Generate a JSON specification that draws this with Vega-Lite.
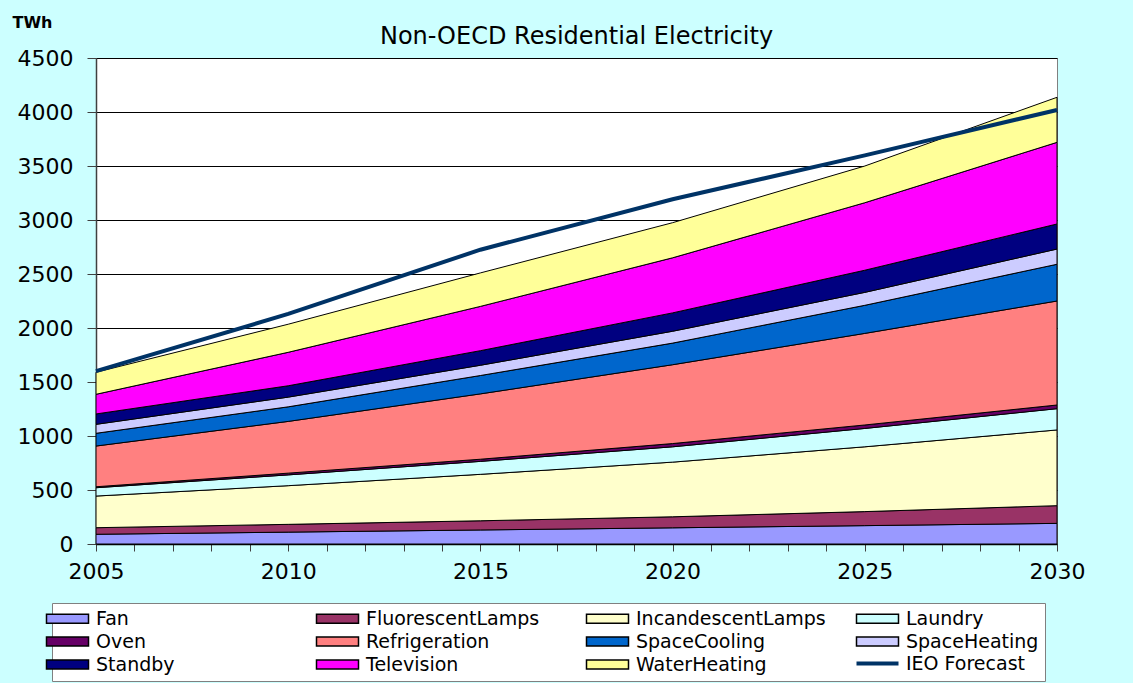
{
  "$schema": "https://vega.github.io/schema/vega-lite/v6.json",
  "width": 961,
  "height": 486,
  "autosize": {"type": "none"},
  "padding": {"left": 96, "top": 58, "right": 76, "bottom": 139},
  "background": "#CCFFFF",
  "title": {"text": "Non-OECD Residential Electricity", "font": "DejaVu Sans", "fontSize": 24, "fontWeight": "normal", "color": "black", "anchor": "middle", "frame": "group", "offset": -35},
  "config": {"view": {"fill": "white", "stroke": "#808080", "strokeWidth": 1}, "font": "DejaVu Sans", "axis": {"labelOverlap": false}},
  "datasets": {
    "areas": [
      {"year": 2005, "cat": "Fan", "k": 1, "value": 90},
      {"year": 2010, "cat": "Fan", "k": 1, "value": 110},
      {"year": 2015, "cat": "Fan", "k": 1, "value": 130},
      {"year": 2020, "cat": "Fan", "k": 1, "value": 150},
      {"year": 2025, "cat": "Fan", "k": 1, "value": 170},
      {"year": 2030, "cat": "Fan", "k": 1, "value": 191},
      {"year": 2005, "cat": "FluorescentLamps", "k": 2, "value": 61},
      {"year": 2010, "cat": "FluorescentLamps", "k": 2, "value": 72},
      {"year": 2015, "cat": "FluorescentLamps", "k": 2, "value": 85},
      {"year": 2020, "cat": "FluorescentLamps", "k": 2, "value": 102},
      {"year": 2025, "cat": "FluorescentLamps", "k": 2, "value": 130},
      {"year": 2030, "cat": "FluorescentLamps", "k": 2, "value": 164},
      {"year": 2005, "cat": "IncandescentLamps", "k": 3, "value": 293},
      {"year": 2010, "cat": "IncandescentLamps", "k": 3, "value": 358},
      {"year": 2015, "cat": "IncandescentLamps", "k": 3, "value": 430},
      {"year": 2020, "cat": "IncandescentLamps", "k": 3, "value": 506},
      {"year": 2025, "cat": "IncandescentLamps", "k": 3, "value": 600},
      {"year": 2030, "cat": "IncandescentLamps", "k": 3, "value": 701},
      {"year": 2005, "cat": "Laundry", "k": 4, "value": 77},
      {"year": 2010, "cat": "Laundry", "k": 4, "value": 100},
      {"year": 2015, "cat": "Laundry", "k": 4, "value": 120},
      {"year": 2020, "cat": "Laundry", "k": 4, "value": 142},
      {"year": 2025, "cat": "Laundry", "k": 4, "value": 170},
      {"year": 2030, "cat": "Laundry", "k": 4, "value": 197},
      {"year": 2005, "cat": "Oven", "k": 5, "value": 9},
      {"year": 2010, "cat": "Oven", "k": 5, "value": 16},
      {"year": 2015, "cat": "Oven", "k": 5, "value": 20},
      {"year": 2020, "cat": "Oven", "k": 5, "value": 30},
      {"year": 2025, "cat": "Oven", "k": 5, "value": 32},
      {"year": 2030, "cat": "Oven", "k": 5, "value": 34},
      {"year": 2005, "cat": "Refrigeration", "k": 6, "value": 377},
      {"year": 2010, "cat": "Refrigeration", "k": 6, "value": 479},
      {"year": 2015, "cat": "Refrigeration", "k": 6, "value": 605},
      {"year": 2020, "cat": "Refrigeration", "k": 6, "value": 730},
      {"year": 2025, "cat": "Refrigeration", "k": 6, "value": 848},
      {"year": 2030, "cat": "Refrigeration", "k": 6, "value": 963},
      {"year": 2005, "cat": "SpaceCooling", "k": 7, "value": 118},
      {"year": 2010, "cat": "SpaceCooling", "k": 7, "value": 135},
      {"year": 2015, "cat": "SpaceCooling", "k": 7, "value": 170},
      {"year": 2020, "cat": "SpaceCooling", "k": 7, "value": 200},
      {"year": 2025, "cat": "SpaceCooling", "k": 7, "value": 260},
      {"year": 2030, "cat": "SpaceCooling", "k": 7, "value": 340},
      {"year": 2005, "cat": "SpaceHeating", "k": 8, "value": 83},
      {"year": 2010, "cat": "SpaceHeating", "k": 8, "value": 90},
      {"year": 2015, "cat": "SpaceHeating", "k": 8, "value": 95},
      {"year": 2020, "cat": "SpaceHeating", "k": 8, "value": 110},
      {"year": 2025, "cat": "SpaceHeating", "k": 8, "value": 120},
      {"year": 2030, "cat": "SpaceHeating", "k": 8, "value": 141},
      {"year": 2005, "cat": "Standby", "k": 9, "value": 96},
      {"year": 2010, "cat": "Standby", "k": 9, "value": 105},
      {"year": 2015, "cat": "Standby", "k": 9, "value": 135},
      {"year": 2020, "cat": "Standby", "k": 9, "value": 170},
      {"year": 2025, "cat": "Standby", "k": 9, "value": 205},
      {"year": 2030, "cat": "Standby", "k": 9, "value": 232},
      {"year": 2005, "cat": "Television", "k": 10, "value": 182},
      {"year": 2010, "cat": "Television", "k": 10, "value": 310},
      {"year": 2015, "cat": "Television", "k": 10, "value": 410},
      {"year": 2020, "cat": "Television", "k": 10, "value": 510},
      {"year": 2025, "cat": "Television", "k": 10, "value": 625},
      {"year": 2030, "cat": "Television", "k": 10, "value": 756},
      {"year": 2005, "cat": "WaterHeating", "k": 11, "value": 204},
      {"year": 2010, "cat": "WaterHeating", "k": 11, "value": 260},
      {"year": 2015, "cat": "WaterHeating", "k": 11, "value": 310},
      {"year": 2020, "cat": "WaterHeating", "k": 11, "value": 325},
      {"year": 2025, "cat": "WaterHeating", "k": 11, "value": 340},
      {"year": 2030, "cat": "WaterHeating", "k": 11, "value": 417}
    ],
    "ieo": [
      {"year": 2005, "series": "IEO Forecast", "value": 1600},
      {"year": 2010, "series": "IEO Forecast", "value": 2130},
      {"year": 2015, "series": "IEO Forecast", "value": 2725},
      {"year": 2020, "series": "IEO Forecast", "value": 3192},
      {"year": 2025, "series": "IEO Forecast", "value": 3598},
      {"year": 2030, "series": "IEO Forecast", "value": 4019}
    ]
  },
  "layer": [
    {
      "data": {"name": "areas"},
      "mark": {"type": "area", "stroke": "black", "strokeWidth": 1, "opacity": 1},
      "encoding": {
        "x": {
          "field": "year", "type": "quantitative",
          "scale": {"domain": [2005, 2030], "nice": false, "zero": false},
          "axis": {
            "title": null,
            "values": [2005,2006,2007,2008,2009,2010,2011,2012,2013,2014,2015,2016,2017,2018,2019,2020,2021,2022,2023,2024,2025,2026,2027,2028,2029,2030],
            "format": "d",
            "labelExpr": "datum.value % 5 === 0 ? datum.label : ''",
            "labelFont": "DejaVu Sans", "labelFontSize": 22, "labelColor": "black",
            "labelPadding": 10, "labelFlush": false, "labelOverlap": false,
            "tickSize": 7, "tickColor": "#404040", "domainColor": "black", "domainWidth": 1.5, "grid": false
          }
        },
        "y": {
          "field": "value", "type": "quantitative", "stack": "zero",
          "scale": {"domain": [0, 4500], "nice": false},
          "title": "TWh",
          "axis": {
            "titleAngle": 0, "titleX": -84, "titleY": -36, "titleAlign": "left", "titleBaseline": "middle",
            "titleFont": "DejaVu Sans", "titleFontSize": 16, "titleFontWeight": "bold", "titleColor": "black",
            "values": [0,500,1000,1500,2000,2500,3000,3500,4000,4500],
            "format": "d",
            "labelFont": "DejaVu Sans", "labelFontSize": 22, "labelColor": "black", "labelPadding": 14,
            "tickSize": 9, "tickColor": "#404040", "domainColor": "#404040", "domainWidth": 1.5,
            "grid": true, "gridColor": "black", "gridWidth": 1
          }
        },
        "color": {
          "field": "cat", "type": "nominal",
          "scale": {
            "domain": ["Fan","FluorescentLamps","IncandescentLamps","Laundry","Oven","Refrigeration","SpaceCooling","SpaceHeating","Standby","Television","WaterHeating"],
            "range": ["#9999FF","#993366","#FFFFCC","#CCFFFF","#660066","#FF8080","#0066CC","#CCCCFF","#000080","#FF00FF","#FFFF99"]
          },
          "legend": {
            "orient": "none", "legendX": -44, "legendY": 545, "direction": "horizontal", "columns": 4, "title": null,
            "gridAlign": "all", "columnPadding": 27, "rowPadding": 3,
            "labelFont": "DejaVu Sans", "labelFontSize": 19, "labelColor": "black", "labelOffset": 19, "labelLimit": 300,
            "symbolSize": 144, "symbolStrokeWidth": 1.5, "symbolStrokeColor": "black",
            "symbolType": "M-3.5,-0.75H3.5V0.75H-3.5Z",
            "fillColor": "white", "strokeColor": "#808080", "padding": 6,
            "encode": {
              "symbols": {
                "stroke": {"value": "black"},
                "strokeWidth": {"value": 1.5}
              }
            }
          }
        },
        "order": {"field": "k", "type": "quantitative"}
      }
    },
    {
      "data": {"name": "ieo"},
      "mark": {"type": "line", "strokeWidth": 4},
      "encoding": {
        "x": {
          "field": "year", "type": "quantitative",
          "axis": {
            "title": null,
            "values": [2005,2006,2007,2008,2009,2010,2011,2012,2013,2014,2015,2016,2017,2018,2019,2020,2021,2022,2023,2024,2025,2026,2027,2028,2029,2030],
            "format": "d",
            "labelExpr": "datum.value % 5 === 0 ? datum.label : ''",
            "labelFont": "DejaVu Sans", "labelFontSize": 22, "labelColor": "black",
            "labelPadding": 10, "labelFlush": false, "labelOverlap": false,
            "tickSize": 7, "tickColor": "#404040", "domainColor": "black", "domainWidth": 1.5, "grid": false
          }
        },
        "y": {"field": "value", "type": "quantitative", "title": "TWh"},
        "stroke": {
          "field": "series", "type": "nominal",
          "scale": {"domain": ["IEO Forecast"], "range": ["#003366"]},
          "legend": {
            "orient": "none", "legendX": 772, "legendY": 596, "title": null,
            "labelFont": "DejaVu Sans", "labelFontSize": 19, "labelColor": "black", "labelOffset": 19, "labelLimit": 300,
            "symbolSize": 144, "symbolStrokeWidth": 4,
            "symbolType": "M-3.5,0H3.5",
            "padding": 0
          }
        }
      }
    }
  ]
}
